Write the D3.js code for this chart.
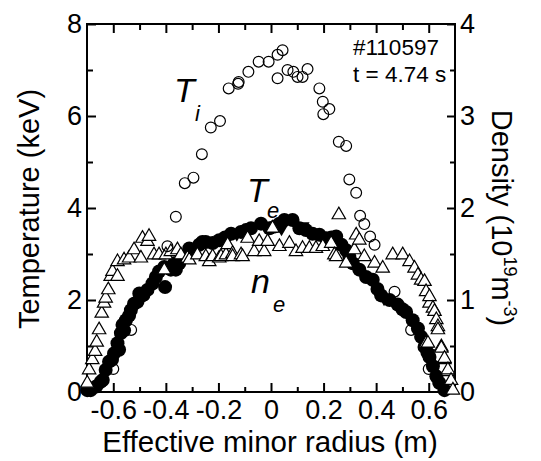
<!DOCTYPE html>
<html>
<head>
<meta charset="utf-8">
<script src="https://cdn.jsdelivr.net/npm/d3@7"></script>
<style>
  body { margin: 0; background: #fff; }
  text { font-family: Arial, "Liberation Sans", sans-serif; fill: #000; }
</style>
</head>
<body>
<div id="chart"></div>
<script>
// ion temperature (open circles), [r (m), T (keV)]
const tiData = [
  [-0.60, 0.50], [-0.532, 1.35], [-0.482, 2.10], [-0.394, 3.17], [-0.362, 3.81],
  [-0.328, 4.54], [-0.295, 4.66], [-0.263, 5.17], [-0.229, 5.75], [-0.194, 5.89],
  [-0.161, 6.60], [-0.125, 6.70], [-0.123, 6.74], [-0.086, 6.96], [-0.047, 7.18],
  [-0.009, 7.18], [0.025, 7.33], [0.044, 7.43], [0.025, 6.82], [0.063, 7.00],
  [0.085, 6.96], [0.101, 6.85], [0.120, 6.85], [0.139, 7.02], [0.184, 6.60],
  [0.197, 6.31], [0.222, 6.15], [0.199, 6.04], [0.258, 5.44], [0.286, 5.35],
  [0.298, 4.62], [0.324, 4.33], [0.339, 3.83], [0.355, 3.65], [0.377, 3.38],
  [0.394, 3.20], [0.470, 2.18], [0.533, 1.35], [0.60, 0.50]
];

// electron temperature (open triangles), [r (m), T (keV)]
const teData = [
  [-0.699, 0.19], [-0.692, 0.48], [-0.680, 0.70], [-0.669, 0.88], [-0.663, 1.08],
  [-0.654, 1.35], [-0.644, 1.71], [-0.635, 1.93], [-0.629, 2.04], [-0.619, 2.22],
  [-0.610, 2.51], [-0.603, 2.62], [-0.584, 2.51], [-0.584, 2.83], [-0.559, 2.87],
  [-0.540, 2.91], [-0.521, 3.09], [-0.495, 2.91], [-0.489, 3.34], [-0.470, 3.27],
  [-0.464, 3.38], [-0.445, 2.98], [-0.426, 2.98], [-0.406, 2.65], [-0.400, 2.98],
  [-0.381, 3.05], [-0.356, 3.09], [-0.343, 2.98], [-0.318, 2.91], [-0.311, 2.87],
  [-0.280, 2.98], [-0.248, 2.94], [-0.235, 2.83], [-0.222, 2.94], [-0.197, 2.91],
  [-0.190, 2.94], [-0.171, 2.98], [-0.165, 3.20], [-0.146, 3.01], [-0.146, 2.94],
  [-0.114, 2.98], [-0.108, 2.94], [-0.089, 3.34], [-0.064, 3.05], [-0.045, 3.27],
  [-0.026, 3.05], [-0.013, 3.27], [0.006, 3.56], [0.032, 3.16], [0.070, 3.23],
  [0.095, 3.05], [0.120, 3.12], [0.146, 3.12], [0.171, 3.12], [0.197, 3.16],
  [0.229, 3.23], [0.241, 2.98], [0.248, 2.94], [0.258, 3.85], [0.286, 2.80],
  [0.317, 3.09], [0.324, 3.41], [0.336, 3.30], [0.355, 2.94], [0.394, 2.80],
  [0.425, 2.69], [0.463, 2.98], [0.501, 2.98], [0.527, 2.83], [0.546, 2.69],
  [0.559, 2.54], [0.571, 2.43], [0.584, 2.40], [0.590, 2.18], [0.590, 1.06],
  [0.597, 1.06], [0.603, 1.93], [0.603, 2.07], [0.616, 1.82], [0.622, 1.75],
  [0.629, 1.57], [0.635, 1.42], [0.635, 1.35], [0.648, 0.98], [0.648, 0.95],
  [0.660, 0.70], [0.660, 0.73], [0.673, 0.44], [0.673, 0.48], [0.685, 0.25],
  [0.692, 0.04]
];

// electron density (filled circles), [r (m), n (1e19 m^-3)]
const neData = [
  [-0.699, 0.02], [-0.686, 0.02], [-0.665, 0.06], [-0.648, 0.11], [-0.640, 0.13],
  [-0.629, 0.24], [-0.616, 0.33], [-0.605, 0.35], [-0.597, 0.42], [-0.584, 0.53],
  [-0.578, 0.46], [-0.571, 0.64], [-0.565, 0.73], [-0.559, 0.67], [-0.552, 0.78],
  [-0.540, 0.83], [-0.533, 0.89], [-0.521, 0.96], [-0.508, 0.98], [-0.501, 1.07],
  [-0.489, 1.05], [-0.470, 1.11], [-0.451, 1.18], [-0.438, 1.25], [-0.426, 1.31],
  [-0.406, 1.36], [-0.403, 1.14], [-0.381, 1.33], [-0.368, 1.40], [-0.362, 1.33],
  [-0.349, 1.40], [-0.330, 1.47], [-0.311, 1.56], [-0.299, 1.54], [-0.273, 1.60],
  [-0.261, 1.63], [-0.248, 1.63], [-0.222, 1.62], [-0.197, 1.65], [-0.175, 1.68],
  [-0.152, 1.72], [-0.114, 1.74], [-0.095, 1.76], [-0.076, 1.78], [-0.038, 1.83],
  [-0.006, 1.78], [0.015, 1.80], [0.032, 1.83], [0.051, 1.87], [0.082, 1.87],
  [0.108, 1.78], [0.133, 1.76], [0.158, 1.72], [0.184, 1.71], [0.210, 1.67],
  [0.230, 1.68], [0.248, 1.69], [0.268, 1.60], [0.286, 1.54], [0.298, 1.47],
  [0.311, 1.40], [0.336, 1.33], [0.362, 1.25], [0.387, 1.22], [0.405, 1.12],
  [0.419, 1.05], [0.451, 1.00], [0.482, 0.95], [0.500, 0.90], [0.514, 0.87],
  [0.539, 0.78], [0.559, 0.69], [0.571, 0.60], [0.584, 0.49], [0.595, 0.43],
  [0.603, 0.38], [0.616, 0.28], [0.629, 0.17], [0.640, 0.10], [0.660, 0.02]
];

// second density set (filled down triangles)
const ne2Data = [
  [-0.13, 1.72], [0.04, 1.78], [0.12, 1.80], [0.29, 1.50], [0.43, 1.02], [0.60, 0.42]
];

const rMajor = [-0.6, -0.4, -0.2, 0, 0.2, 0.4, 0.6];
const rMinor = [-0.5, -0.3, -0.1, 0.1, 0.3, 0.5];
const tMajor = [0, 2, 4, 6, 8];
const tMinor = [1, 3, 5, 7];
const nMajor = [0, 1, 2, 3, 4];
const nMinor = [0.5, 1.5, 2.5, 3.5];

const margin = { top: 24, right: 86, bottom: 69, left: 87 },
      width = 541 - margin.left - margin.right,
      height = 461 - margin.top - margin.bottom;

const svg = d3.select("#chart").append("svg")
    .attr("width", 541)
    .attr("height", 461);

const g = svg.append("g")
    .attr("transform", `translate(${margin.left},${margin.top})`);

const x = d3.scaleLinear().domain([-0.7, 0.7]).range([0, width]);
const yT = d3.scaleLinear().domain([0, 8]).range([height, 0]);
const yN = d3.scaleLinear().domain([0, 4]).range([height, 0]);

const tickFont = "27px";
const fmt = d => String(d);

function styleAxis(sel) {
  sel.select(".domain").remove();
  sel.selectAll(".tick line").attr("stroke", "#000").attr("stroke-width", 2);
  sel.selectAll(".tick text").style("font-size", tickFont)
    .style("font-family", "Arial, 'Liberation Sans', sans-serif");
}

// bottom
g.append("g").attr("transform", `translate(0,${height})`)
  .call(d3.axisBottom(x).tickValues(rMajor).tickFormat(fmt).tickSizeInner(-9).tickSizeOuter(0).tickPadding(8))
  .call(styleAxis);
g.append("g").attr("transform", `translate(0,${height})`)
  .call(d3.axisBottom(x).tickValues(rMinor).tickFormat("").tickSizeInner(-5).tickSizeOuter(0))
  .call(styleAxis);
// top
g.append("g")
  .call(d3.axisTop(x).tickValues(rMajor).tickFormat("").tickSizeInner(-9).tickSizeOuter(0))
  .call(styleAxis);
g.append("g")
  .call(d3.axisTop(x).tickValues(rMinor).tickFormat("").tickSizeInner(-6).tickSizeOuter(0))
  .call(styleAxis);
// left
g.append("g")
  .call(d3.axisLeft(yT).tickValues(tMajor).tickFormat(fmt).tickSizeInner(-9).tickSizeOuter(0).tickPadding(5))
  .call(styleAxis);
g.append("g")
  .call(d3.axisLeft(yT).tickValues(tMinor).tickFormat("").tickSizeInner(-6).tickSizeOuter(0))
  .call(styleAxis);
// right
g.append("g").attr("transform", `translate(${width},0)`)
  .call(d3.axisRight(yN).tickValues(nMajor).tickFormat(fmt).tickSizeInner(-8).tickSizeOuter(0).tickPadding(5))
  .call(styleAxis);
g.append("g").attr("transform", `translate(${width},0)`)
  .call(d3.axisRight(yN).tickValues(nMinor).tickFormat("").tickSizeInner(-5).tickSizeOuter(0))
  .call(styleAxis);

// frame
g.append("rect")
  .attr("width", width).attr("height", height)
  .attr("fill", "none").attr("stroke", "#000").attr("stroke-width", 2);

// data
const plot = g.append("g");

plot.selectAll(".ne").data(neData).enter().append("circle")
  .attr("class", "ne")
  .attr("cx", d => x(d[0])).attr("cy", d => yN(d[1]))
  .attr("r", 7).attr("fill", "#000");

plot.selectAll(".ne2").data(ne2Data).enter().append("path")
  .attr("class", "ne2")
  .attr("d", d3.symbol(d3.symbolTriangle, 85))
  .attr("transform", d => `translate(${x(d[0])},${yN(d[1])}) rotate(180)`)
  .attr("fill", "#000");

plot.selectAll(".te").data(teData).enter().append("path")
  .attr("class", "te")
  .attr("d", d3.symbol(d3.symbolTriangle, 78))
  .attr("transform", d => `translate(${x(d[0])},${yT(d[1])})`)
  .attr("fill", "#fff").attr("stroke", "#000").attr("stroke-width", 1.2);

plot.selectAll(".ti").data(tiData).enter().append("circle")
  .attr("class", "ti")
  .attr("cx", d => x(d[0])).attr("cy", d => yT(d[1]))
  .attr("r", 5.4).attr("fill", "none").attr("stroke", "#000").attr("stroke-width", 1.2);

// axis titles
svg.append("text")
  .attr("transform", "translate(39,209) rotate(-90)")
  .attr("text-anchor", "middle")
  .style("font-size", "29px")
  .text("Temperature (keV)");

svg.append("text")
  .attr("x", 270).attr("y", 452)
  .attr("text-anchor", "middle")
  .style("font-size", "29.5px")
  .text("Effective minor radius (m)");

const dens = svg.append("text")
  .attr("transform", "translate(492,218) rotate(90)")
  .attr("text-anchor", "middle")
  .style("font-size", "29px");
dens.append("tspan").text("Density (10");
dens.append("tspan").attr("dy", -12).style("font-size", "18px").text("19");
dens.append("tspan").attr("dy", 12).text("m");
dens.append("tspan").attr("dy", -12).style("font-size", "18px").text("-3");
dens.append("tspan").attr("dy", 12).text(")");

// annotations
svg.append("text").attr("x", 353).attr("y", 55).style("font-size", "22.5px").text("#110597");
svg.append("text").attr("x", 353).attr("y", 82).style("font-size", "22.5px").text("t = 4.74 s");

function label(main, sub, mx, my, sx, sy) {
  svg.append("text").attr("x", mx).attr("y", my)
    .style("font-size", "34px").style("font-style", "italic").text(main);
  svg.append("text").attr("x", sx).attr("y", sy)
    .style("font-size", "22px").style("font-style", "italic").text(sub);
}
label("T", "i", 174, 102, 195, 121);
label("T", "e", 247, 202, 267, 218);
label("n", "e", 251, 293, 273, 312);
</script>
</body>
</html>
